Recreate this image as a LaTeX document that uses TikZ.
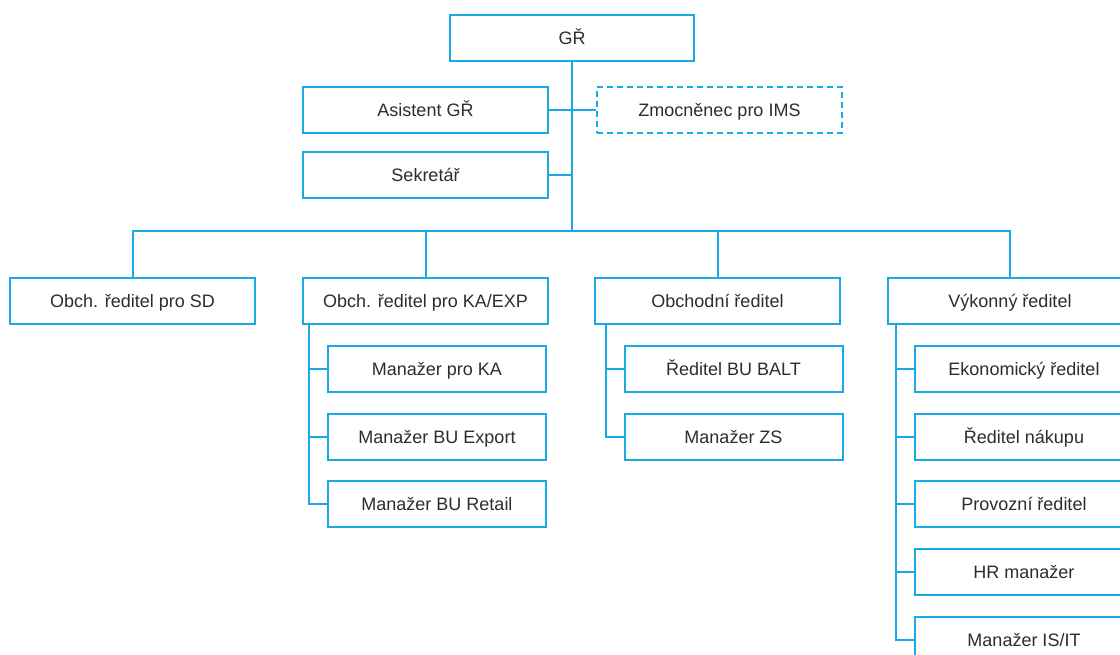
\documentclass[tikz,border=0pt]{standalone}
\usepackage{fontspec}
\setmainfont{Liberation Sans}
\usetikzlibrary{calc}
\definecolor{lineblue}{RGB}{24,170,230}
\definecolor{txtgray}{RGB}{45,45,45}
\tikzset{
  orgbox/.style={draw=lineblue, line width=2pt, fill=white, inner sep=0pt,
    minimum width=245pt, minimum height=46pt, text=txtgray,
    text height=13pt, text depth=0pt,
    font=\fontsize{18}{20}\selectfont},
  subbox/.style={orgbox, minimum width=218pt},
  dashbox/.style={orgbox, dash pattern=on 6pt off 4pt},
  conn/.style={draw=lineblue, line width=2pt}
}
\begin{document}
\begin{tikzpicture}[x=1pt,y=-1pt]
\useasboundingbox (0,0) rectangle (1120,655);
\clip (0,0) rectangle (1120,655);
% top level
\node[orgbox, minimum width=244pt] (gr) at (572,38) {GŘ};
\node[orgbox] (asi) at (425.5,110) {Asistent GŘ};
\node[dashbox] (zmo) at (719.5,110) {Zmocněnec pro IMS};
\node[orgbox] (sek) at (425.5,175.5) {Sekretář};
% level 1
\node[orgbox] (sd) at (132.5,301.5) {Obch. ředitel pro SD};
\node[orgbox] (ka) at (425.5,301.5) {Obch. ředitel pro KA/EXP};
\node[orgbox] (ob) at (717.5,301.5) {Obchodní ředitel};
\node[orgbox] (vy) at (1010,301.5) {Výkonný ředitel};
% children
\node[subbox] (ka1) at (437,369) {Manažer pro KA};
\node[subbox] (ka2) at (437,436.5) {Manažer BU Export};
\node[subbox] (ka3) at (437,504) {Manažer BU Retail};
\node[subbox] (ob1) at (733.5,369) {Ředitel BU BALT};
\node[subbox] (ob2) at (733.5,436.5) {Manažer ZS};
\node[subbox] (vy1) at (1024,369) {Ekonomický ředitel};
\node[subbox] (vy2) at (1024,436.5) {Ředitel nákupu};
\node[subbox] (vy3) at (1024,504) {Provozní ředitel};
\node[subbox] (vy4) at (1024,572) {HR manažer};
\node[subbox] (vy5) at (1024,640) {Manažer IS/IT};
% connectors top
\coordinate (bus) at (572,231);
\draw[conn] (gr.south) -- (bus);
\draw[conn] (asi.east) -- (asi.east -| gr.south);
\draw[conn] (zmo.west) -- (zmo.west -| gr.south);
\draw[conn] (sek.east) -- (sek.east -| gr.south);
\draw[conn] (sd.north) -- (sd.north |- bus) -- (vy.north |- bus) -- (vy.north);
\draw[conn] (ka.north) -- (ka.north |- bus);
\draw[conn] (ob.north) -- (ob.north |- bus);
% spines
\coordinate (kas) at ($(ka1.west)+(-18,0)$);
\draw[conn] (kas |- ka.south) -- (kas |- ka3.west) -- (ka3.west);
\foreach \c in {ka1,ka2} \draw[conn] (\c.west) -- (kas |- \c.west);
\coordinate (obs) at ($(ob1.west)+(-18,0)$);
\draw[conn] (obs |- ob.south) -- (obs |- ob2.west) -- (ob2.west);
\draw[conn] (ob1.west) -- (obs |- ob1.west);
\coordinate (vys) at ($(vy1.west)+(-18,0)$);
\draw[conn] (vys |- vy.south) -- (vys |- vy5.west) -- (vy5.west);
\foreach \c in {vy1,vy2,vy3,vy4} \draw[conn] (\c.west) -- (vys |- \c.west);
\end{tikzpicture}
\end{document}
